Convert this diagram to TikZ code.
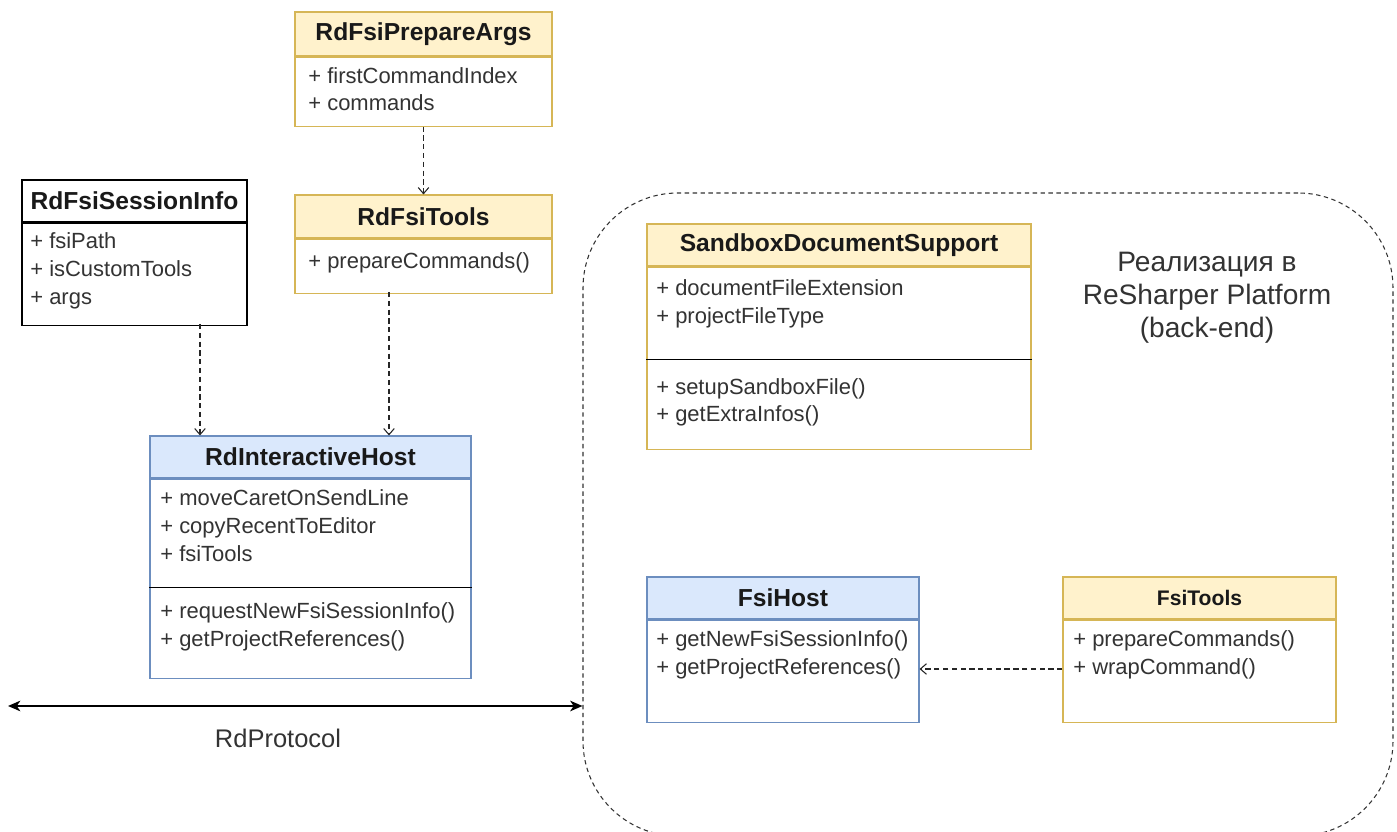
\documentclass[tikz,border=0pt]{standalone}
\usepackage{fontspec}
\setmainfont{Liberation Sans}
\usetikzlibrary{positioning,arrows.meta}

\definecolor{yfill}{HTML}{FFF2CC}
\definecolor{yline}{HTML}{D6B656}
\definecolor{bfill}{HTML}{DAE8FC}
\definecolor{bline}{HTML}{6C8EBF}
\definecolor{txtgray}{HTML}{333333}

\tikzset{
  head/.style={draw, line width=0.6pt, inner sep=0pt, text=black!90,
    font=\bfseries\fontsize{14}{16}\selectfont},
  yhead/.style={head, draw=yline, fill=yfill},
  bhead/.style={head, draw=bline, fill=bfill},
  khead/.style={head, draw=black, fill=white},
  ybody/.style={draw=yline, fill=white, line width=0.6pt, inner sep=0pt},
  bbody/.style={draw=bline, fill=white, line width=0.6pt, inner sep=0pt},
  kbody/.style={draw=black, fill=white, line width=0.6pt, inner sep=0pt},
  member/.style={anchor=west, inner sep=0pt, text=txtgray,
    font=\fontsize{12.5}{15}\selectfont, text height=1.6ex, text depth=0.4ex},
  sepline/.style={draw=black, line width=0.8pt},
  dep/.style={draw=black!85, line width=0.6pt, dash pattern=on 3pt off 2pt,
    -{Straight Barb[length=3.5pt,width=6pt]}},
  proto/.style={draw=black, line width=1pt,
    {Stealth[length=7pt,width=6pt,inset=2pt]}-{Stealth[length=7pt,width=6pt,inset=2pt]}},
  region/.style={draw=black!80, line width=0.6pt, dash pattern=on 2.5pt off 2pt,
    rounded corners=1.9cm, inner sep=0pt},
  note/.style={text=txtgray, align=center}
}

\begin{document}
\begin{tikzpicture}
\useasboundingbox (0,0) rectangle (27.94,-16.64);

% back-end area
\node[region, minimum width=16.2cm, minimum height=12.86cm] (backend) at (19.76,-10.29) {};
\node[note, font=\fontsize{16}{18.7}\selectfont] (backendText) at (24.14,-5.96)
  {Реализация в\\ReSharper Platform\\(back-end)};

% RdFsiPrepareArgs
\node[yhead, minimum width=5.14cm, minimum height=0.88cm] (argsHead) at (8.47,-0.68) {RdFsiPrepareArgs};
\node[ybody, minimum width=5.14cm, minimum height=1.38cm, below=0pt of argsHead] (argsBody) {};
\node[member] (argsM1) at (6.16,-1.56) {+ firstCommandIndex};
\node[member] (argsM2) at (6.16,-2.10) {+ commands};

% RdFsiTools
\node[yhead, minimum width=5.14cm, minimum height=0.86cm] (toolsHead) at (8.47,-4.33) {RdFsiTools};
\node[ybody, minimum width=5.14cm, minimum height=1.08cm, below=0pt of toolsHead] (toolsBody) {};
\node[member] (toolsM1) at (6.16,-5.26) {+ prepareCommands()};

% RdFsiSessionInfo
\node[khead, minimum width=4.5cm, minimum height=0.84cm] (infoHead) at (2.69,-4.02) {RdFsiSessionInfo};
\node[kbody, minimum width=4.5cm, minimum height=2.04cm, below=0pt of infoHead] (infoBody) {};
\node[member] (infoM1) at (0.60,-4.86) {+ fsiPath};
\node[member] (infoM2) at (0.60,-5.42) {+ isCustomTools};
\node[member] (infoM3) at (0.60,-5.98) {+ args};

% RdInteractiveHost
\node[bhead, minimum width=6.42cm, minimum height=0.84cm] (hostHead) at (6.21,-9.14) {RdInteractiveHost};
\node[bbody, minimum width=6.42cm, minimum height=3.98cm, below=0pt of hostHead] (hostBody) {};
\draw[sepline] ([yshift=-2.18cm]hostBody.north west) -- ([yshift=-2.18cm]hostBody.north east);
\node[member] (hostM1) at (3.20,-10.00) {+ moveCaretOnSendLine};
\node[member] (hostM2) at (3.20,-10.56) {+ copyRecentToEditor};
\node[member] (hostM3) at (3.20,-11.12) {+ fsiTools};
\node[member] (hostM4) at (3.20,-12.26) {+ requestNewFsiSessionInfo()};
\node[member] (hostM5) at (3.20,-12.82) {+ getProjectReferences()};

% SandboxDocumentSupport
\node[yhead, minimum width=7.68cm, minimum height=0.84cm] (sbHead) at (16.78,-4.90) {SandboxDocumentSupport};
\node[ybody, minimum width=7.68cm, minimum height=3.64cm, below=0pt of sbHead] (sbBody) {};
\draw[sepline] ([yshift=-1.86cm]sbBody.north west) -- ([yshift=-1.86cm]sbBody.north east);
\node[member] (sbM1) at (13.12,-5.80) {+ documentFileExtension};
\node[member] (sbM2) at (13.12,-6.36) {+ projectFileType};
\node[member] (sbM3) at (13.12,-7.78) {+ setupSandboxFile()};
\node[member] (sbM4) at (13.12,-8.32) {+ getExtraInfos()};

% FsiHost
\node[bhead, minimum width=5.44cm, minimum height=0.84cm] (fhHead) at (15.66,-11.96) {FsiHost};
\node[bbody, minimum width=5.44cm, minimum height=2.04cm, below=0pt of fhHead] (fhBody) {};
\node[member] (fhM1) at (13.12,-12.82) {+ getNewFsiSessionInfo()};
\node[member] (fhM2) at (13.12,-13.38) {+ getProjectReferences()};

% FsiTools
\node[yhead, minimum width=5.46cm, minimum height=0.84cm, font=\bfseries\fontsize{12}{14}\selectfont] (ftHead) at (23.99,-11.96) {FsiTools};
\node[ybody, minimum width=5.46cm, minimum height=2.04cm, below=0pt of ftHead] (ftBody) {};
\node[member] (ftM1) at (21.46,-12.82) {+ prepareCommands()};
\node[member] (ftM2) at (21.46,-13.38) {+ wrapCommand()};

% dependencies
\coordinate (infoOut) at (4.00,-6.48);
\coordinate (toolsOut) at (7.78,-5.84);
\draw[dep] (argsBody.south) -- (toolsHead.north);
\draw[dep] (infoOut) -- (infoOut |- hostHead.north);
\draw[dep] (toolsOut) -- (toolsOut |- hostHead.north);
\draw[dep] (ftM2.west -| ftBody.west) -- (ftM2.west -| fhBody.east);

% protocol
\coordinate (protoL) at (0.16,-14.12);
\draw[proto] (protoL) -- (protoL -| backend.west);
\node[text=txtgray, font=\fontsize{14.5}{17}\selectfont] (protoText) at (5.56,-14.76) {RdProtocol};
\end{tikzpicture}
\end{document}
